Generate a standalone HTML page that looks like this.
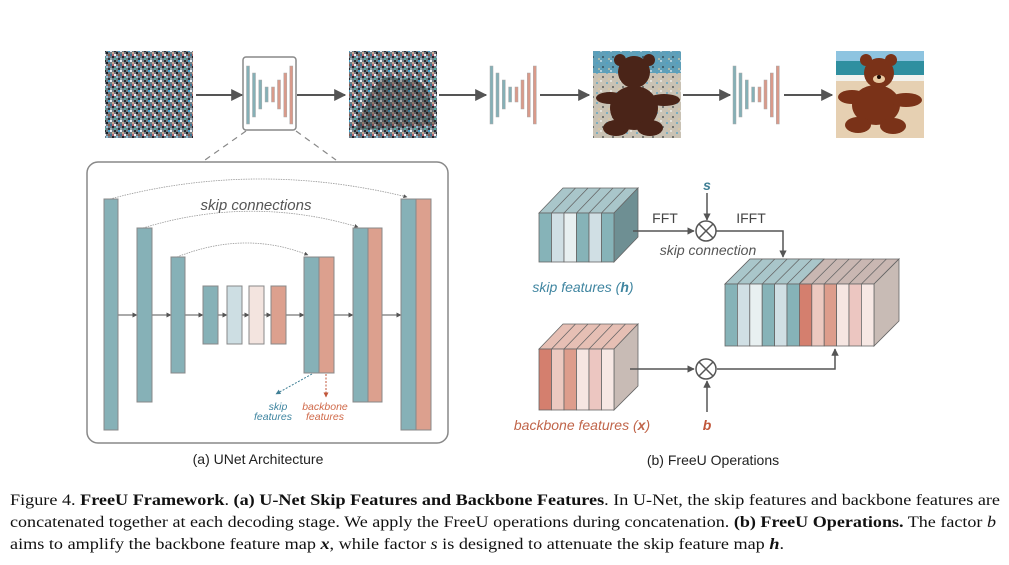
<!DOCTYPE html>
<html><head><meta charset="utf-8"><style>
html,body{margin:0;padding:0;background:#fff;}
svg{display:block;}
</style></head><body>
<svg width="1009" height="565" viewBox="0 0 1009 565" xmlns="http://www.w3.org/2000/svg">
<defs>
<pattern id="noise" x="0" y="0" width="10" height="10" patternUnits="userSpaceOnUse">
<rect width="10" height="10" fill="#6f7a84"/>
<rect x="0" y="0" width="2" height="2" fill="#e8eef2"/><rect x="4" y="0" width="2" height="2" fill="#2a2e35"/>
<rect x="8" y="0" width="2" height="2" fill="#4aa0c8"/><rect x="2" y="2" width="2" height="2" fill="#c8a890"/>
<rect x="6" y="2" width="2" height="2" fill="#1e2228"/><rect x="0" y="4" width="2" height="2" fill="#3a7890"/>
<rect x="4" y="4" width="2" height="2" fill="#f2f2f2"/><rect x="8" y="4" width="2" height="2" fill="#8a5a50"/>
<rect x="2" y="6" width="2" height="2" fill="#20262c"/><rect x="6" y="6" width="2" height="2" fill="#90c0d8"/>
<rect x="0" y="8" width="2" height="2" fill="#a0a8b0"/><rect x="4" y="8" width="2" height="2" fill="#50b0a0"/>
<rect x="8" y="8" width="2" height="2" fill="#2c3038"/><rect x="2" y="4" width="2" height="2" fill="#b06070"/>
</pattern>
<pattern id="noise2" x="0" y="0" width="10" height="10" patternUnits="userSpaceOnUse">
<rect width="10" height="10" fill="#d8dde0" fill-opacity="0"/>
<rect x="0" y="0" width="2" height="2" fill="#ffffff" fill-opacity=".5"/><rect x="6" y="2" width="2" height="2" fill="#4aa0c8" fill-opacity=".6"/>
<rect x="2" y="6" width="2" height="2" fill="#20262c" fill-opacity=".5"/><rect x="8" y="8" width="2" height="2" fill="#e0c8a0" fill-opacity=".6"/>
</pattern>
<marker id="ah" viewBox="0 0 10 10" refX="9" refY="5" markerWidth="6" markerHeight="6" orient="auto"><path d="M0,0 L10,5 L0,10 z" fill="#555"/></marker>
<marker id="ahs" viewBox="0 0 10 10" refX="9" refY="5" markerWidth="5" markerHeight="5" orient="auto"><path d="M0,0 L10,5 L0,10 z" fill="#555"/></marker>
<marker id="ahb" viewBox="0 0 10 10" refX="9" refY="5" markerWidth="5" markerHeight="5" orient="auto"><path d="M0,0 L10,5 L0,10 z" fill="#3f7f95"/></marker>
<marker id="ahr" viewBox="0 0 10 10" refX="9" refY="5" markerWidth="5" markerHeight="5" orient="auto"><path d="M0,0 L10,5 L0,10 z" fill="#c0563a"/></marker>
<g id="mini">
<rect x="0" y="0" width="3" height="58" fill="#85b0b6" stroke="#aaa" stroke-width=".5"/>
<rect x="6" y="7" width="3" height="44" fill="#85b0b6" stroke="#aaa" stroke-width=".5"/>
<rect x="12.3" y="14" width="3" height="29" fill="#85b0b6" stroke="#aaa" stroke-width=".5"/>
<rect x="18.6" y="21" width="3" height="15" fill="#85b0b6" stroke="#aaa" stroke-width=".5"/>
<rect x="25" y="21" width="3" height="15" fill="#d99a8a" stroke="#aaa" stroke-width=".5"/>
<rect x="31" y="14" width="3" height="29" fill="#d99a8a" stroke="#aaa" stroke-width=".5"/>
<rect x="37.3" y="7" width="3" height="44" fill="#d99a8a" stroke="#aaa" stroke-width=".5"/>
<rect x="43.3" y="0" width="3" height="58" fill="#d99a8a" stroke="#aaa" stroke-width=".5"/>
</g>
</defs>

<!-- top row -->
<rect x="105" y="51" width="88" height="87" fill="url(#noise)"/>
<rect x="349" y="51" width="88" height="87" fill="url(#noise)"/>
<path d="M370,95 Q380,70 400,80 Q425,75 430,100 L436,125 L355,130 Z" fill="#2a2420" opacity=".35"/>
<!-- noisy bear -->
<rect x="593" y="51" width="88" height="87" fill="#c9c2b4"/>
<rect x="593" y="51" width="88" height="22" fill="#5f9fb8"/>
<rect x="593" y="51" width="88" height="87" fill="url(#noise2)"/>
<g fill="#4a2418">
<ellipse cx="634" cy="108" rx="24" ry="22"/><circle cx="634" cy="72" r="16"/>
<circle cx="620" cy="60" r="6"/><circle cx="649" cy="60" r="6"/>
<ellipse cx="610" cy="98" rx="14" ry="6"/><ellipse cx="664" cy="100" rx="16" ry="6"/>
<ellipse cx="616" cy="128" rx="13" ry="8"/><ellipse cx="650" cy="128" rx="13" ry="8"/>
</g>
<!-- final bear -->
<rect x="836" y="51" width="88" height="87" fill="#e6d0b2"/>
<rect x="836" y="51" width="88" height="10" fill="#8ec4e0"/>
<rect x="836" y="61" width="88" height="14" fill="#2f8fa0"/>
<rect x="836" y="75" width="88" height="6" fill="#f2f2ee"/>
<g fill="#7a3218">
<ellipse cx="876" cy="105" rx="24" ry="20"/><circle cx="879" cy="73" r="15"/>
<circle cx="866" cy="60" r="6"/><circle cx="891" cy="60" r="6"/>
<ellipse cx="852" cy="97" rx="14" ry="7"/><ellipse cx="906" cy="100" rx="16" ry="7"/>
<ellipse cx="858" cy="125" rx="13" ry="8"/><ellipse cx="893" cy="126" rx="13" ry="8"/>
</g>
<ellipse cx="879" cy="79" rx="6" ry="4" fill="#e8c8a0"/>
<circle cx="879" cy="77" r="2" fill="#1a0a05"/>

<rect x="243" y="57" width="53" height="73" rx="3" fill="#fff" stroke="#888" stroke-width="1.5"/>
<use href="#mini" x="246.5" y="66"/>
<use href="#mini" x="490" y="66"/>
<use href="#mini" x="733" y="66"/>

<g stroke="#555" stroke-width="2" fill="none" marker-end="url(#ah)">
<line x1="196" y1="95" x2="242" y2="95"/>
<line x1="297" y1="95" x2="345" y2="95"/>
<line x1="439" y1="95" x2="486" y2="95"/>
<line x1="540" y1="95" x2="589" y2="95"/>
<line x1="683" y1="95" x2="730" y2="95"/>
<line x1="784" y1="95" x2="832" y2="95"/>
</g>
<g stroke="#888" stroke-width="1.2" stroke-dasharray="6,5">
<line x1="246" y1="131" x2="205" y2="160"/><line x1="296" y1="131" x2="336" y2="160"/>
</g>

<!-- UNet box -->
<rect x="87" y="162" width="361" height="281" rx="11" fill="#fff" stroke="#888" stroke-width="1.5"/>
<g stroke="#999" stroke-width=".8" fill="none" stroke-dasharray="1.5,1">
<path d="M110,199 Q255,160 407,197" marker-end="url(#ahs)"/>
<path d="M143,228 Q250,195 358,227" marker-end="url(#ahs)"/>
<path d="M177,257 Q245,230 308,255" marker-end="url(#ahs)"/>
</g>
<g stroke="#555" stroke-width="1" marker-end="url(#ahs)">
<line x1="118" y1="315" x2="137" y2="315"/><line x1="152" y1="315" x2="171" y2="315"/>
<line x1="185" y1="315" x2="203" y2="315"/><line x1="218" y1="315" x2="227" y2="315"/>
<line x1="242" y1="315" x2="249" y2="315"/><line x1="264" y1="315" x2="271" y2="315"/>
<line x1="286" y1="315" x2="304" y2="315"/><line x1="334" y1="315" x2="353" y2="315"/>
<line x1="382" y1="315" x2="401" y2="315"/>
</g>
<g stroke="#888" stroke-width="1">
<rect x="104" y="199" width="14" height="231" fill="#86b1b7"/>
<rect x="137" y="228" width="15" height="174" fill="#86b1b7"/>
<rect x="171" y="257" width="14" height="116" fill="#86b1b7"/>
<rect x="203" y="286" width="15" height="58" fill="#86b1b7"/>
<rect x="227" y="286" width="15" height="58" fill="#cddee3"/>
<rect x="249" y="286" width="15" height="58" fill="#f3e4df"/>
<rect x="271" y="286" width="15" height="58" fill="#dca08e"/>
<rect x="304" y="257" width="15" height="116" fill="#86b1b7"/>
<rect x="319" y="257" width="15" height="116" fill="#dca08e"/>
<rect x="353" y="228" width="15" height="174" fill="#86b1b7"/>
<rect x="368" y="228" width="14" height="174" fill="#dca08e"/>
<rect x="401" y="199" width="15" height="231" fill="#86b1b7"/>
<rect x="416" y="199" width="15" height="231" fill="#dca08e"/>
</g>
<text x="256" y="210" font-family="Liberation Sans, DejaVu Sans, sans-serif" font-style="italic" font-size="15" fill="#555" text-anchor="middle">skip connections</text>
<line x1="312" y1="374" x2="276" y2="394" stroke="#3f7f95" stroke-width="1" stroke-dasharray="2,1.5" marker-end="url(#ahb)"/>
<line x1="326" y1="374" x2="326" y2="397" stroke="#c0563a" stroke-width="1" stroke-dasharray="2,1.5" marker-end="url(#ahr)"/>
<g font-family="Liberation Sans, DejaVu Sans, sans-serif" font-style="italic" font-size="10.5" text-anchor="middle">
<text x="278" y="410" fill="#3f85a0">skip</text><text x="273" y="420" fill="#3f85a0">features</text>
<text x="325" y="410" fill="#d06a4a">backbone</text><text x="325" y="420" fill="#d06a4a">features</text>
</g>
<text x="258" y="464" font-family="Liberation Sans, DejaVu Sans, sans-serif" font-size="14" fill="#222" text-anchor="middle">(a) UNet Architecture</text>
<text x="713" y="465" font-family="Liberation Sans, DejaVu Sans, sans-serif" font-size="14" fill="#222" text-anchor="middle">(b) FreeU Operations</text>

<!-- skip cube -->
<g stroke="#666" stroke-width=".8">
<polygon points="539,213 563,188 638,188 614,213" fill="#a9c6ca"/>
<polygon points="614,213 638,188 638,237 614,262" fill="#6e8f93"/>
<rect x="539" y="213" width="12.5" height="49" fill="#86b3b8"/>
<rect x="551.5" y="213" width="12.5" height="49" fill="#d0dfe4"/>
<rect x="564" y="213" width="12.5" height="49" fill="#e8f0f1"/>
<rect x="576.5" y="213" width="12.5" height="49" fill="#86b3b8"/>
<rect x="589" y="213" width="12.5" height="49" fill="#d0dfe4"/>
<rect x="601.5" y="213" width="12.5" height="49" fill="#86b3b8"/>
<line x1="551.5" y1="213" x2="575.5" y2="188"/><line x1="564" y1="213" x2="588" y2="188"/>
<line x1="576.5" y1="213" x2="600.5" y2="188"/><line x1="589" y1="213" x2="613" y2="188"/><line x1="601.5" y1="213" x2="625.5" y2="188"/>
</g>
<!-- backbone cube -->
<g stroke="#666" stroke-width=".8">
<polygon points="539,349 563,324 638,324 614,349" fill="#e6bfb4"/>
<polygon points="614,349 638,324 638,386 614,410" fill="#c8bbb5"/>
<rect x="539" y="349" width="12.5" height="61" fill="#d47f6e"/>
<rect x="551.5" y="349" width="12.5" height="61" fill="#ecc9c0"/>
<rect x="564" y="349" width="12.5" height="61" fill="#dd9d8c"/>
<rect x="576.5" y="349" width="12.5" height="61" fill="#f6e6e2"/>
<rect x="589" y="349" width="12.5" height="61" fill="#ecc6c1"/>
<rect x="601.5" y="349" width="12.5" height="61" fill="#f7e8e4"/>
<line x1="551.5" y1="349" x2="575.5" y2="324"/><line x1="564" y1="349" x2="588" y2="324"/>
<line x1="576.5" y1="349" x2="600.5" y2="324"/><line x1="589" y1="349" x2="613" y2="324"/><line x1="601.5" y1="349" x2="625.5" y2="324"/>
</g>
<!-- concat cube -->
<g stroke="#666" stroke-width=".8">
<polygon points="725,284 750,259 899,259 874,284" fill="#c9b7b2"/>
<polygon points="725,284 750,259 824,259 799,284" fill="#a9c6ca"/>
<polygon points="874,284 899,259 899,321 874,346" fill="#c8bbb5"/>
<rect x="725" y="284" width="12.4" height="62" fill="#86b3b8"/>
<rect x="737.4" y="284" width="12.4" height="62" fill="#d0dfe4"/>
<rect x="749.8" y="284" width="12.4" height="62" fill="#e8f0f1"/>
<rect x="762.2" y="284" width="12.4" height="62" fill="#86b3b8"/>
<rect x="774.6" y="284" width="12.4" height="62" fill="#d0dfe4"/>
<rect x="787" y="284" width="12.4" height="62" fill="#86b3b8"/>
<rect x="799.4" y="284" width="12.4" height="62" fill="#d47f6e"/>
<rect x="811.8" y="284" width="12.4" height="62" fill="#ecc9c0"/>
<rect x="824.2" y="284" width="12.4" height="62" fill="#dd9d8c"/>
<rect x="836.6" y="284" width="12.4" height="62" fill="#f6e6e2"/>
<rect x="849" y="284" width="12.4" height="62" fill="#ecc6c1"/>
<rect x="861.4" y="284" width="12.6" height="62" fill="#f7e8e4"/>
<line x1="737.4" y1="284" x2="762.4" y2="259"/><line x1="749.8" y1="284" x2="774.8" y2="259"/>
<line x1="762.2" y1="284" x2="787.2" y2="259"/><line x1="774.6" y1="284" x2="799.6" y2="259"/>
<line x1="787" y1="284" x2="812" y2="259"/><line x1="799.4" y1="284" x2="824.4" y2="259"/>
<line x1="811.8" y1="284" x2="836.8" y2="259"/><line x1="824.2" y1="284" x2="849.2" y2="259"/>
<line x1="836.6" y1="284" x2="861.6" y2="259"/><line x1="849" y1="284" x2="874" y2="259"/>
<line x1="861.4" y1="284" x2="886.4" y2="259"/>
</g>
<!-- operation arrows -->
<g stroke="#555" stroke-width="1.5" fill="none">
<line x1="633" y1="231" x2="694" y2="231" marker-end="url(#ahs)"/>
<line x1="707" y1="193" x2="707" y2="220" marker-end="url(#ahs)"/>
<polyline points="715,231 783,231 783,257" marker-end="url(#ahs)"/>
<line x1="630" y1="369" x2="694" y2="369" marker-end="url(#ahs)"/>
<line x1="707" y1="412" x2="707" y2="381" marker-end="url(#ahs)"/>
<polyline points="717,369 835,369 835,349" marker-end="url(#ahs)"/>
<circle cx="706" cy="231" r="10" fill="#fff"/>
<line x1="699" y1="224" x2="713" y2="238"/><line x1="713" y1="224" x2="699" y2="238"/>
<circle cx="706" cy="369" r="10" fill="#fff"/>
<line x1="699" y1="362" x2="713" y2="376"/><line x1="713" y1="362" x2="699" y2="376"/>
</g>
<g font-family="Liberation Sans, DejaVu Sans, sans-serif" font-size="14">
<text x="665" y="223" fill="#444" text-anchor="middle">FFT</text>
<text x="751" y="223" fill="#444" text-anchor="middle">IFFT</text>
<text x="708" y="255" fill="#555" font-style="italic" text-anchor="middle">skip connection</text>
<text x="707" y="190" fill="#3f7f95" font-style="italic" font-weight="bold" text-anchor="middle">s</text>
<text x="707" y="430" fill="#c0563a" font-style="italic" font-weight="bold" text-anchor="middle">b</text>
<text x="583" y="292" fill="#3f85a0" font-style="italic" text-anchor="middle">skip features (<tspan font-weight="bold">h</tspan>)</text>
<text x="582" y="430" fill="#c0654a" font-style="italic" text-anchor="middle">backbone features (<tspan font-weight="bold">x</tspan>)</text>
</g>

<!-- caption -->
<g font-family="Liberation Serif, DejaVu Serif, serif" font-size="15.5" fill="#111">
<text x="10" y="505" textLength="990" lengthAdjust="spacingAndGlyphs">Figure 4. <tspan font-weight="bold">FreeU Framework</tspan>. <tspan font-weight="bold">(a) U-Net Skip Features and Backbone Features</tspan>. In U-Net, the skip features and backbone features are</text>
<text x="10" y="527" textLength="986" lengthAdjust="spacingAndGlyphs">concatenated together at each decoding stage. We apply the FreeU operations during concatenation. <tspan font-weight="bold">(b) FreeU Operations.</tspan> The factor <tspan font-style="italic">b</tspan></text>
<text x="10" y="549" textLength="774" lengthAdjust="spacingAndGlyphs">aims to amplify the backbone feature map <tspan font-style="italic" font-weight="bold">x</tspan>, while factor <tspan font-style="italic">s</tspan> is designed to attenuate the skip feature map <tspan font-style="italic" font-weight="bold">h</tspan>.</text>
</g>
</svg>
</body></html>
